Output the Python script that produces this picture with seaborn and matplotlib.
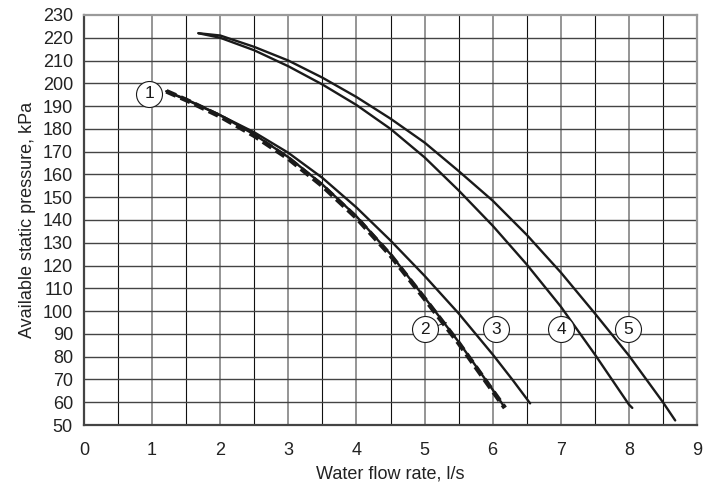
import matplotlib
matplotlib.use('Agg')
import matplotlib.pyplot as plt
import seaborn as sns
import numpy as np

# curve readings (flow l/s, pressure kPa)
c1_x = [1.21, 1.5, 2.0, 2.5, 3.0, 3.5, 4.0, 4.5, 5.0, 5.5, 6.0, 6.18]
c1_p = [196.5, 192.7, 185.5, 177, 167, 155, 141, 124.5, 105.5, 86, 65, 57.5]

c2_x = [1.21, 1.5, 2.0, 2.5, 3.0, 3.5, 4.0, 4.5, 5.0, 5.5, 6.0, 6.17]
c2_p = [196.5, 193, 186, 177.5, 167.6, 155.6, 141.6, 125, 106, 86.5, 65.5, 58]

c3_x = [1.21, 1.5, 2.0, 2.5, 3.0, 3.5, 4.0, 4.5, 5.0, 5.5, 6.0, 6.3, 6.55]
c3_p = [196.5, 192.8, 186, 178.5, 169.5, 158.5, 145.5, 131, 115.5, 99, 81, 69.5, 59.5]

c4_x = [1.68, 2.0, 2.5, 3.0, 3.5, 4.0, 4.5, 5.0, 5.5, 6.0, 6.5, 7.0, 7.5, 8.0, 8.05]
c4_p = [222, 220, 214.5, 207.5, 199.5, 190.5, 180, 167.5, 153, 137.5, 120.5, 102, 81, 59, 57.5]

c5_x = [1.68, 2.0, 2.5, 3.0, 3.5, 4.0, 4.5, 5.0, 5.5, 6.0, 6.5, 7.0, 7.5, 8.0, 8.5, 8.68]
c5_p = [222, 221, 216, 210, 202.5, 194, 184.5, 174, 161.5, 148.5, 133.5, 117, 99, 80.5, 60, 52]

label_text = ['1', '2', '3', '4', '5']
label_x = [0.96, 5.0, 6.05, 7.01, 7.99]
label_y = [195.5, 92, 92, 92, 92]

x_ticks = list(range(0, 10))
y_ticks = list(range(50, 231, 10))

sns.set_theme(style='white')
plt.rcParams['font.family'] = ['Liberation Sans', 'DejaVu Sans']

fig = plt.figure(figsize=(7.15, 4.86), dpi=100)
ax = fig.add_axes([84 / 715, 61 / 486, 613 / 715, 410 / 486])

# grid
for v in np.arange(0.5, 9, 1.0):
    ax.axvline(v, color='#111111', lw=0.8, zorder=1)
for v in range(1, 9):
    ax.axvline(v, color='#8c8c8c', lw=1.3, zorder=1)
for h in range(60, 230, 10):
    ax.axhline(h, color='#444444', lw=1.0, zorder=1)

for xs, ps in [(c2_x, c2_p), (c3_x, c3_p), (c4_x, c4_p), (c5_x, c5_p)]:
    sns.lineplot(x=xs, y=ps, sort=False, color='#1a1a1a', lw=1.7, ax=ax, zorder=3)

sns.lineplot(x=c1_x, y=c1_p, sort=False, color='#1a1a1a', lw=3.4, ax=ax, zorder=4)
ax.lines[-1].set_dashes([2.2, 1.1])
ax.lines[-1].set_dash_capstyle('butt')

# leader from label 2
ax.plot([5.15, 5.32], [93.2, 95.0], color='#1a1a1a', lw=0.7, zorder=5)

ax.scatter(label_x, label_y, s=350, facecolor='white', edgecolor='#1a1a1a', linewidth=0.8, zorder=6)
for t, lx, ly in zip(label_text, label_x, label_y):
    ax.text(lx, ly, t, ha='center', va='center', fontsize=12.5, color='#1a1a1a', zorder=7)

ax.set_xlim(0, 9)
ax.set_ylim(50, 230)
ax.set_xticks(x_ticks)
ax.set_yticks(y_ticks)
ax.tick_params(axis='both', which='major', direction='out', length=5, width=1,
               color='#555555', labelsize=13, labelcolor='#222222')
ax.tick_params(axis='y', pad=3)
ax.tick_params(axis='x', pad=7)

for side in ['left', 'bottom']:
    ax.spines[side].set_color('#444444')
    ax.spines[side].set_linewidth(1.6)
for side in ['top', 'right']:
    ax.spines[side].set_color('#9a9a9a')
    ax.spines[side].set_linewidth(1.6)

ax.set_xlabel('Water flow rate, l/s', fontsize=13, color='#222222', labelpad=5)
ax.set_ylabel('Available static pressure, kPa', fontsize=13, color='#222222', labelpad=5)

fig.savefig('out.png', dpi=100)
